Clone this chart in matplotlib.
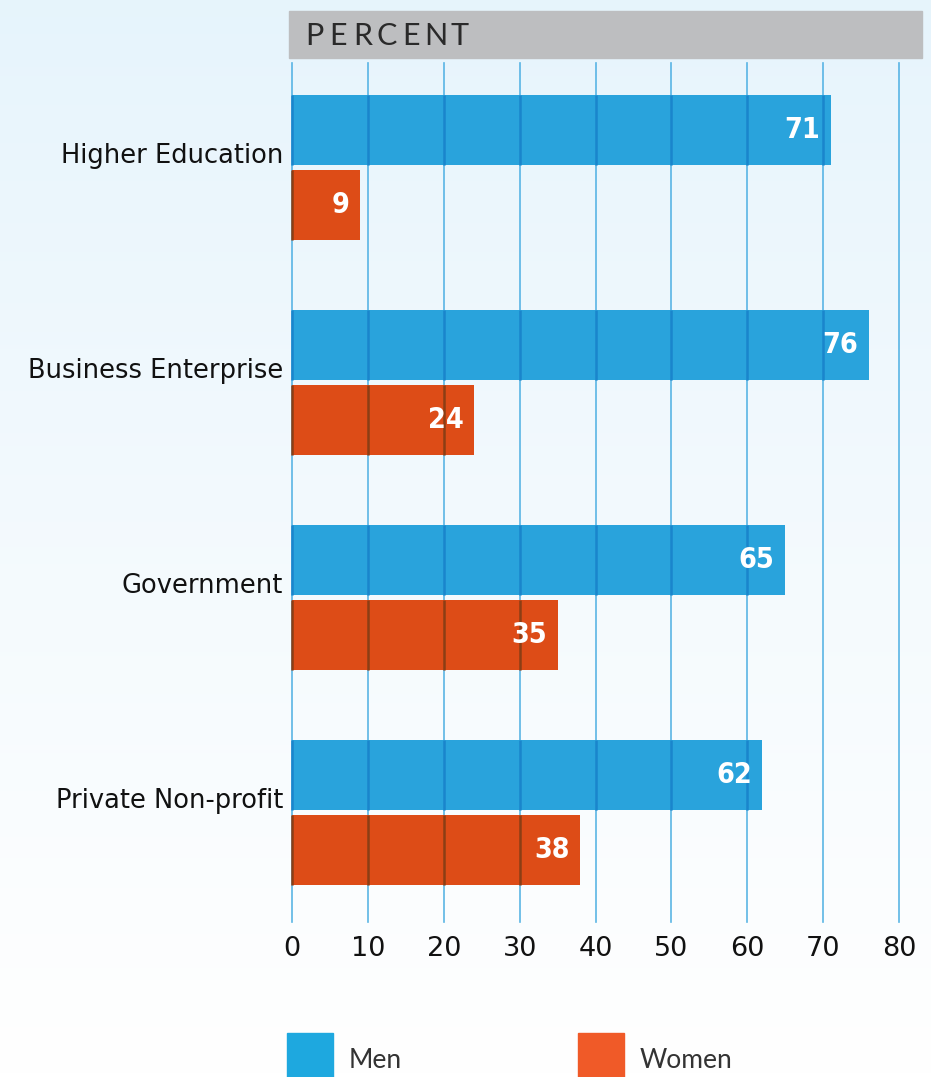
import matplotlib.pyplot as plt
import numpy as np
from matplotlib.colors import to_rgb
from matplotlib.patches import Rectangle

# data
sectors = ["Higher Education", "Business Enterprise", "Government", "Private Non-profit"]
men = [71, 76, 65, 62]
women = [9, 24, 35, 38]
x_ticks = [0, 10, 20, 30, 40, 50, 60, 70, 80]

MEN_C = "#29A3DC"
WOMEN_C = "#DD4C17"
WOMEN_LEG = "#F05A28"
GRID_C = "#3FA9E0"

plt.rcParams["font.family"] = ["DejaVu Sans"]

W, H = 931, 1077
fig = plt.figure(figsize=(W / 100, H / 100), dpi=100)

# background gradient, light blue at top to white at bottom
bg = fig.add_axes([0, 0, 1, 1], zorder=-10)
grad = np.linspace(0, 1, 256).reshape(-1, 1)
top = np.array([0.902, 0.957, 0.988])
bot = np.array([1.0, 1.0, 1.0])
img = top + (bot - top) * grad[..., None] ** 0.9
bg.imshow(img, aspect="auto", extent=[0, 1, 0, 1])
bg.set_axis_off()

px = lambda v: v / W
py = lambda v: v / H
ax = fig.add_axes([px(292), py(H - 922), px(630), py(922 - 63)])
ax.patch.set_alpha(0)

ypos = np.arange(len(sectors))
off = 37.5 / 215
bh = 70 / 215
ax.barh(ypos - off, men, height=bh, color=MEN_C, zorder=2)
ax.barh(ypos + off, women, height=bh, color=WOMEN_C, zorder=2)

# grid lines: light behind, "multiplied" where they cross a bar
for t in x_ticks:
    ax.axvline(t, color=GRID_C, lw=1.2, alpha=0.85, zorder=1, clip_on=False)


def blend(c, a=0.42):
    c = np.array(to_rgb(c))
    g = np.array(to_rgb("#1F8FD2"))
    return tuple(c * (1 - a) + c * g * a)


for vals, yy, col in [(men, ypos - off, MEN_C), (women, ypos + off, WOMEN_C)]:
    for v, y in zip(vals, yy):
        xs = [t for t in x_ticks if t < v]
        ax.vlines(xs, y - bh / 2, y + bh / 2, color=blend(col), lw=1.8,
                  zorder=3, clip_on=False)

lab_kw = dict(ha="right", va="center", color="white", fontsize=20.5,
              fontweight="bold", fontstretch="condensed", zorder=4)
for i in range(len(sectors)):
    ax.text(men[i] - 1.4, ypos[i] - off, str(men[i]), **lab_kw)
    ax.text(women[i] - 1.4, ypos[i] + off, str(women[i]), **lab_kw)
    ax.text(-1.2, ypos[i] - 0.055, sectors[i], ha="right", va="center",
            fontsize=18.5, color="#111111")

ax.set_xlim(0, 630 / 7.5875)
ax.set_ylim(3 + (922 - 812.5) / 215, -(167.5 - 63) / 215)
ax.set_xticks(x_ticks)
ax.set_xticklabels([str(t) for t in x_ticks], fontsize=19.5, color="#111111")
ax.tick_params(axis="x", length=0, pad=10)
ax.set_yticks([])
for s in ax.spines.values():
    s.set_visible(False)

# header bar
fig.patches.append(Rectangle((px(289), py(H - 58)), px(633), py(47),
                             transform=fig.transFigure, color="#BDBEC0", zorder=1))
for k, ch in enumerate("PERCENT"):
    fig.text(px(314 + k * 24.3), py(H - 36), ch, ha="center", va="center",
             fontsize=22, color="#2a2a2a", family=["Lato", "DejaVu Sans"])

# legend
fig.patches.append(Rectangle((px(287), 0), px(46), py(44),
                             transform=fig.transFigure, color="#1EA8DF", zorder=1))
fig.text(px(349), py(H - 1060), "Men", ha="left", va="center", fontsize=19,
         color="#333333", family=["Lato", "DejaVu Sans"])
fig.patches.append(Rectangle((px(578), 0), px(46), py(44),
                             transform=fig.transFigure, color=WOMEN_LEG, zorder=1))
fig.text(px(640), py(H - 1060), "Women", ha="left", va="center", fontsize=19,
         color="#333333", family=["Lato", "DejaVu Sans"])

fig.savefig("out.png", dpi=100)
